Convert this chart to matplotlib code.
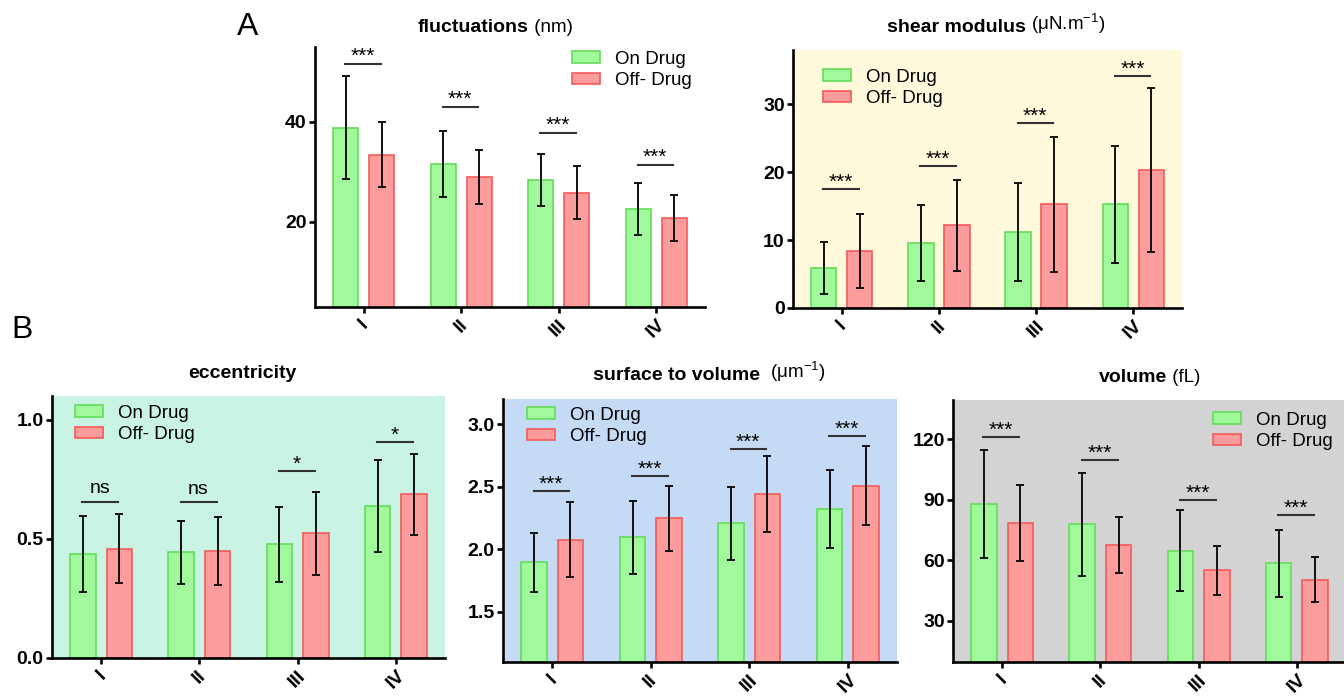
import matplotlib
matplotlib.use('Agg')
import matplotlib.pyplot as plt
import numpy as np

plt.rcParams['font.family'] = ['Liberation Sans', 'DejaVu Sans']
plt.rcParams['mathtext.fontset'] = 'custom'
plt.rcParams['mathtext.rm'] = 'Liberation Sans'
plt.rcParams['mathtext.it'] = 'Liberation Sans:italic'
plt.rcParams['mathtext.bf'] = 'Liberation Sans:bold'

groups = ['I', 'II', 'III', 'IV']
labels = ['On Drug', 'Off- Drug']

# fluctuations (nm)
fluct_on = [38.9, 31.7, 28.4, 22.7]
fluct_on_sd = [10.3, 6.6, 5.2, 5.2]
fluct_off = [33.5, 29.1, 25.9, 20.8]
fluct_off_sd = [6.5, 5.4, 5.3, 4.6]
fluct_sig = [51.7, 43.1, 37.9, 31.5]
fluct_marks = ['***', '***', '***', '***']

# shear modulus
shear_on = [5.9, 9.6, 11.2, 15.3]
shear_on_sd = [3.8, 5.6, 7.2, 8.6]
shear_off = [8.4, 12.2, 15.25, 20.3]
shear_off_sd = [5.5, 6.7, 9.9, 12.1]
shear_sig = [17.5, 20.9, 27.3, 34.1]
shear_marks = ['***', '***', '***', '***']

# eccentricity
ecc_on = [0.437, 0.444, 0.478, 0.639]
ecc_on_sd = [0.16, 0.133, 0.157, 0.194]
ecc_off = [0.458, 0.449, 0.523, 0.687]
ecc_off_sd = [0.145, 0.144, 0.176, 0.171]
ecc_sig = [0.657, 0.655, 0.784, 0.905]
ecc_marks = ['ns', 'ns', '*', '*']

# surface to volume
sv_on = [1.896, 2.096, 2.207, 2.322]
sv_on_sd = [0.235, 0.29, 0.29, 0.31]
sv_off = [2.077, 2.247, 2.441, 2.508]
sv_off_sd = [0.30, 0.257, 0.30, 0.315]
sv_sig = [2.463, 2.585, 2.80, 2.902]
sv_marks = ['***', '***', '***', '***']

# volume (fL)
vol_on = [88.1, 77.8, 64.7, 58.6]
vol_on_sd = [26.7, 25.7, 20.1, 16.6]
vol_off = [78.5, 67.7, 55.1, 50.4]
vol_off_sd = [18.9, 14.0, 12.2, 11.1]
vol_sig = [121, 109.6, 89.9, 82.6]
vol_marks = ['***', '***', '***', '***']

W, H = 1344, 696
fig = plt.figure(figsize=(W / 100, H / 100), dpi=100)

green, green_edge = '#a0f99a', '#62dd5a'
red, red_edge = '#fc9c9c', '#f45a5a'


def rect(left, top, right, bottom):
    return [left / W, 1 - bottom / H, (right - left) / W, (bottom - top) / H]


def panel(box, on, on_sd, off, off_sd, sig, marks, ylim, yticks, bg, leg_xy):
    ax = fig.add_axes(rect(*box))
    x = np.arange(len(groups))
    w, off_x = 0.26, 0.185
    ekw = dict(elinewidth=1.4, capthick=1.4, ecolor='#111111')
    ax.bar(x - off_x, on, w, yerr=on_sd, capsize=3, color=green,
           edgecolor=green_edge, linewidth=1.2, error_kw=ekw, label=labels[0])
    ax.bar(x + off_x, off, w, yerr=off_sd, capsize=3, color=red,
           edgecolor=red_edge, linewidth=1.2, error_kw=ekw, label=labels[1])
    for i, (h, m) in enumerate(zip(sig, marks)):
        ax.plot([i - 0.19, i + 0.175], [h, h], color='#333333', lw=1.5)
        if m == 'ns':
            ax.annotate(m, (i - 0.01, h), xytext=(0, 3), textcoords='offset points',
                        ha='center', va='bottom', fontsize=14)
        else:
            ax.annotate(m, (i - 0.01, h), xytext=(0, -2), textcoords='offset points',
                        ha='center', va='bottom', fontsize=15)
    ax.set_xlim(-0.5, 3.5)
    ax.set_ylim(*ylim)
    ax.set_yticks(yticks)
    ax.set_xticks(x)
    ax.set_xticklabels(groups, rotation=45, ha='center', fontweight='bold', fontsize=14)
    for t in ax.get_yticklabels():
        t.set_fontweight('bold')
        t.set_fontsize(14)
    ax.set_facecolor(bg)
    for s in ['top', 'right']:
        ax.spines[s].set_visible(False)
    for s in ['left', 'bottom']:
        ax.spines[s].set_linewidth(1.9)
    ax.tick_params(width=1.9, length=4.5, pad=1.5)
    ax.tick_params(axis='x', pad=2)
    ax.legend(loc='upper left', bbox_to_anchor=(leg_xy[0] / W, 1 - leg_xy[1] / H),
              bbox_transform=fig.transFigure, frameon=False, fontsize=13.5,
              handlelength=1.5, handleheight=0.6, handletextpad=0.8,
              labelspacing=0.22, borderpad=0, borderaxespad=0)
    return ax


panel((315, 47, 705, 307), fluct_on, fluct_on_sd, fluct_off, fluct_off_sd,
      fluct_sig, fluct_marks, (3, 55), [20, 40], 'white', (572, 51))
panel((793, 50, 1182, 308), shear_on, shear_on_sd, shear_off, shear_off_sd,
      shear_sig, shear_marks, (0, 38), [0, 10, 20, 30], '#fffadc', (823, 69))
panel((52, 396, 445, 658), ecc_on, ecc_on_sd, ecc_off, ecc_off_sd,
      ecc_sig, ecc_marks, (0, 1.1), [0.0, 0.5, 1.0], '#c9f3e3', (75, 405))
panel((503, 399, 897, 662), sv_on, sv_on_sd, sv_off, sv_off_sd,
      sv_sig, sv_marks, (1.1, 3.2), [1.5, 2.0, 2.5, 3.0], '#c5dbf5', (527, 407))
panel((953, 400, 1346, 662), vol_on, vol_on_sd, vol_off, vol_off_sd,
      vol_sig, vol_marks, (9.6, 139.5), [30, 60, 90, 120], '#d3d3d3', (1213, 412))


def title(x, y, bold, rest):
    t = fig.text(x / W, 1 - y / H, bold, fontweight='bold', fontsize=14, va='center')
    if rest:
        plt.annotate(rest, xy=(1, 0), xycoords=t, va='bottom', fontsize=13.5)


title(418, 27, 'fluctuations', ' (nm)')
title(887, 28, 'shear modulus', ' (μN.$\\mathrm{m}^{-1}$)')
title(188, 373, 'eccentricity', '')
title(593, 375, 'surface to volume', '  (μ$\\mathrm{m}^{-1}$)')
title(1099, 378, 'volume', ' (fL)')

fig.text(237 / W, 1 - 27 / H, 'A', fontsize=23, va='center')
fig.text(11 / W, 1 - 330 / H, 'B', fontsize=23, va='center')

fig.savefig('out.png', dpi=100)
